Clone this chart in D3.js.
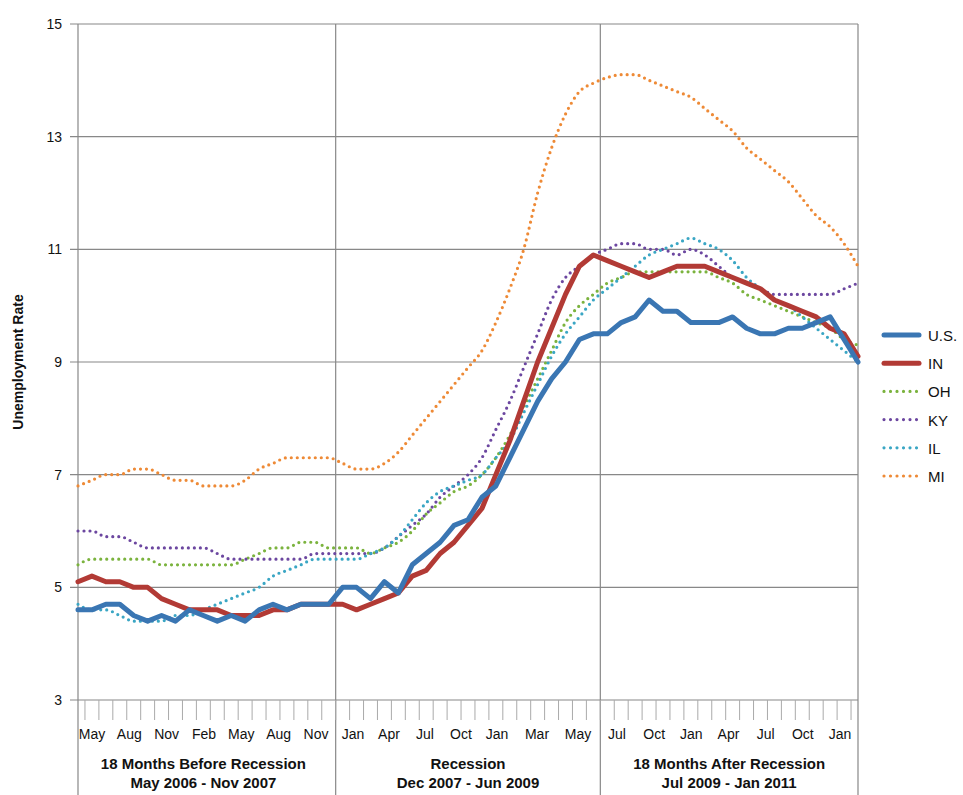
<!DOCTYPE html>
<html>
<head>
<meta charset="utf-8">
<script src="https://cdn.jsdelivr.net/npm/d3@7"></script>
<style>
  body { margin: 0; background: #fff; }
  text { font-family: "Liberation Sans", Arial, sans-serif; fill: #111; }
</style>
</head>
<body>
<svg id="chart" width="963" height="795"></svg>
<script>
// months May 2006 .. Jan 2011 (57 points)
const us = [4.6,4.6,4.7,4.7,4.5,4.4,4.5,4.4,4.6,4.5,4.4,4.5,4.4,4.6,4.7,4.6,4.7,4.7,4.7,5.0,5.0,4.8,5.1,4.9,5.4,5.6,5.8,6.1,6.2,6.6,6.8,7.3,7.8,8.3,8.7,9.0,9.4,9.5,9.5,9.7,9.8,10.1,9.9,9.9,9.7,9.7,9.7,9.8,9.6,9.5,9.5,9.6,9.6,9.7,9.8,9.4,9.0];
const ind = [5.1,5.2,5.1,5.1,5.0,5.0,4.8,4.7,4.6,4.6,4.6,4.5,4.5,4.5,4.6,4.6,4.7,4.7,4.7,4.7,4.6,4.7,4.8,4.9,5.2,5.3,5.6,5.8,6.1,6.4,7.0,7.6,8.3,9.0,9.6,10.2,10.7,10.9,10.8,10.7,10.6,10.5,10.6,10.7,10.7,10.7,10.6,10.5,10.4,10.3,10.1,10.0,9.9,9.8,9.6,9.5,9.1];
const oh = [5.4,5.5,5.5,5.5,5.5,5.5,5.4,5.4,5.4,5.4,5.4,5.4,5.5,5.6,5.7,5.7,5.8,5.8,5.7,5.7,5.7,5.6,5.7,5.8,6.0,6.3,6.5,6.7,6.8,7.0,7.3,7.7,8.2,8.7,9.2,9.7,10.0,10.2,10.4,10.5,10.6,10.6,10.6,10.6,10.6,10.6,10.5,10.4,10.2,10.1,10.0,9.9,9.8,9.7,9.6,9.4,9.3];
const ky = [6.0,6.0,5.9,5.9,5.8,5.7,5.7,5.7,5.7,5.7,5.6,5.5,5.5,5.5,5.5,5.5,5.5,5.6,5.6,5.6,5.6,5.6,5.7,5.9,6.1,6.3,6.6,6.8,7.0,7.3,7.8,8.3,8.9,9.5,10.1,10.5,10.7,10.9,11.0,11.1,11.1,11.0,11.0,10.9,11.0,10.9,10.7,10.5,10.4,10.3,10.2,10.2,10.2,10.2,10.2,10.3,10.4];
const il = [4.7,4.6,4.6,4.5,4.4,4.4,4.4,4.5,4.5,4.6,4.7,4.8,4.9,5.0,5.2,5.3,5.4,5.5,5.5,5.5,5.5,5.6,5.7,5.9,6.2,6.5,6.7,6.8,6.9,7.0,7.3,7.6,8.1,8.6,9.1,9.5,9.8,10.1,10.3,10.5,10.7,10.9,11.0,11.1,11.2,11.1,11.0,10.8,10.5,10.3,10.1,10.0,9.8,9.6,9.4,9.2,9.0];
const mi = [6.8,6.9,7.0,7.0,7.1,7.1,7.0,6.9,6.9,6.8,6.8,6.8,6.9,7.1,7.2,7.3,7.3,7.3,7.3,7.2,7.1,7.1,7.2,7.4,7.7,8.0,8.3,8.6,8.9,9.2,9.7,10.3,11.0,12.0,12.8,13.4,13.8,13.95,14.05,14.1,14.1,14.0,13.9,13.8,13.7,13.5,13.3,13.1,12.8,12.6,12.4,12.2,11.9,11.6,11.4,11.1,10.7];

const seriesNames = ['U.S.', 'IN', 'OH', 'KY', 'IL', 'MI'];
const seriesData = [us, ind, oh, ky, il, mi];
const seriesColors = ['#3a76b3', '#b23a35', '#7bb33e', '#6c47a0', '#3aa6c4', '#ee8a36'];
const seriesSolid = [true, true, false, false, false, false];

const monthLabels = [[0,'May'],[3,'Aug'],[6,'Nov'],[9,'Feb'],[12,'May'],[15,'Aug'],[18,'Nov'],
  [20,'Jan'],[23,'Apr'],[26,'Jul'],[29,'Oct'],[32,'Jan'],[34,'Mar'],[36,'May'],
  [38,'Jul'],[41,'Oct'],[44,'Jan'],[47,'Apr'],[50,'Jul'],[53,'Oct'],[56,'Jan']];
const periods = [
  ['18 Months Before Recession', 'May 2006 - Nov 2007'],
  ['Recession', 'Dec 2007 - Jun 2009'],
  ['18 Months After Recession', 'Jul 2009 - Jan 2011']
];
const dividers = [-0.5, 18.5, 37.5, 56];
const yTicks = [3, 5, 7, 9, 11, 13, 15];

const svg = d3.select('#chart');
const x = d3.scaleLinear().domain([0, 56]).range([78, 858]);
const y = d3.scaleLinear().domain([3, 15]).range([700, 24]);
// label row is laid out per period, slightly inset from the data columns
const xLabel = d3.scaleLinear().domain([0, 18, 20, 32, 34, 36, 38, 56])
  .range([92, 316, 353, 497, 537, 578, 617, 840]);

// horizontal grid
svg.append('g').selectAll('line').data(yTicks).enter().append('line')
  .attr('x1', 70).attr('x2', 858)
  .attr('y1', d => y(d)).attr('y2', d => y(d))
  .attr('stroke', '#888').attr('stroke-width', 1.2);
svg.append('g').selectAll('text').data(yTicks).enter().append('text')
  .attr('x', 62).attr('y', d => y(d) + 5)
  .attr('text-anchor', 'end').attr('font-size', 14).text(d => d);

// plot borders and period dividers
svg.append('g').selectAll('line').data([78, 858, x(18.5), x(37.5)]).enter().append('line')
  .attr('x1', d => d).attr('x2', d => d).attr('y1', 24).attr('y2', 795)
  .attr('stroke', '#888').attr('stroke-width', 1.2);

// month tick marks
svg.append('g').selectAll('line').data(d3.range(0, 56)).enter().append('line')
  .attr('x1', d => x(d + 0.5)).attr('x2', d => x(d + 0.5))
  .attr('y1', 700).attr('y2', 720)
  .attr('stroke', '#aaa').attr('stroke-width', 1);

svg.append('g').selectAll('text').data(monthLabels).enter().append('text')
  .attr('x', d => xLabel(d[0])).attr('y', 739)
  .attr('text-anchor', 'middle').attr('font-size', 14).text(d => d[1]);

periods.forEach((p, i) => {
  const cx = (x(dividers[i]) + x(dividers[i + 1])) / 2;
  svg.append('text').attr('x', cx).attr('y', 769).attr('text-anchor', 'middle')
    .attr('font-size', 15).attr('font-weight', 'bold').text(p[0]);
  svg.append('text').attr('x', cx).attr('y', 788).attr('text-anchor', 'middle')
    .attr('font-size', 15).attr('font-weight', 'bold').text(p[1]);
});

svg.append('text').attr('transform', 'translate(23,362) rotate(-90)')
  .attr('text-anchor', 'middle').attr('font-size', 14).attr('font-weight', 'bold')
  .text('Unemployment Rate');

// lines, dotted ones first so the solid ones sit on top
const order = [5, 2, 3, 4, 1, 0];
order.forEach(k => {
  const path = svg.append('path').datum(seriesData[k])
    .attr('d', d3.line().x((d, i) => x(i)).y(d => y(d)).curve(seriesSolid[k] ? d3.curveLinear : d3.curveMonotoneX))
    .attr('fill', 'none').attr('stroke', seriesColors[k])
    .attr('stroke-linecap', 'round').attr('stroke-linejoin', 'round');
  if (seriesSolid[k]) path.attr('stroke-width', 5);
  else path.attr('stroke-width', 3.2).attr('stroke-dasharray', '0 6');
});

// legend
seriesNames.forEach((name, i) => {
  const ly = 335 + i * 28.2;
  const l = svg.append('line').attr('x1', 884).attr('x2', 919).attr('y1', ly).attr('y2', ly)
    .attr('stroke', seriesColors[i]).attr('stroke-linecap', 'round');
  if (seriesSolid[i]) l.attr('stroke-width', 5);
  else l.attr('stroke-width', 3.2).attr('stroke-dasharray', '0 6.5');
  svg.append('text').attr('x', 928).attr('y', ly + 6).attr('font-size', 15).text(name);
});
</script>
</body>
</html>
